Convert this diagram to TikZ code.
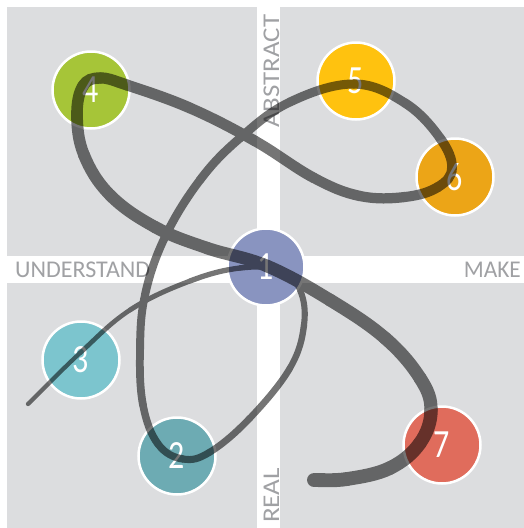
\documentclass[tikz,border=0pt]{standalone}
\usepackage{fontspec}
\setmainfont{Carlito}
\usepackage{graphicx}
\usetikzlibrary{calc}
\definecolor{quadgray}{HTML}{DCDDDF}
\definecolor{labgray}{HTML}{A0A1A4}
\definecolor{cA}{HTML}{8994C0}
\definecolor{cB}{HTML}{6DABB3}
\definecolor{cC}{HTML}{7CC5CE}
\definecolor{cD}{HTML}{A6C538}
\definecolor{cE}{HTML}{FFC20F}
\definecolor{cF}{HTML}{ECA517}
\definecolor{cG}{HTML}{E06C5C}
\newcommand{\digitlabel}[1]{\scalebox{0.8}[1]{\fontsize{40}{40}\selectfont #1}}
\newcommand{\axislabel}[2]{\resizebox{#1}{\height}{\fontsize{24}{24}\selectfont #2}}
\begin{document}
\begin{tikzpicture}[x=1pt,y=-1pt,
  quad/.style={fill=quadgray,draw=none},
  circ/.style={circle,minimum size=77pt,inner sep=0pt,draw=white,line width=2.5pt,text=white},
  axis/.style={inner sep=0pt,text=labgray},
  stroke/.style={black,line cap=round,line width=#1}]
\useasboundingbox (0,0) rectangle (524,528);
\fill[white] (0,0) rectangle (524,528);
% quadrants
\fill[quad] (7,7) rectangle (257,256);
\fill[quad] (280,7) rectangle (524,256);
\fill[quad] (7,283) rectangle (257,528);
\fill[quad] (280,283) rectangle (524,528);
% axis labels
\node[axis,anchor=base west] (lu) at (15,277) {\axislabel{135pt}{UNDERSTAND}};
\node[axis,anchor=base east] (lm) at (521,277) {\axislabel{57pt}{MAKE}};
\node[axis,anchor=base west,rotate=90] (la) at (279,128) {\axislabel{113pt}{ABSTRACT}};
\node[axis,anchor=base west,rotate=90] (lr) at (279,523) {\axislabel{55pt}{REAL}};
% circles
\node[circ,fill=cA] (n1) at (266,267) {\digitlabel{1}};
\node[circ,fill=cB] (n2) at (177,456) {\digitlabel{2}};
\node[circ,fill=cC] (n3) at (81,360) {\digitlabel{3}};
\node[circ,fill=cD] (n4) at (91,90) {\digitlabel{4}};
\node[circ,fill=cE] (n5) at (356,81) {\digitlabel{5}};
\node[circ,fill=cF] (n6) at (455,177) {\digitlabel{6}};
\node[circ,fill=cG] (n7) at (442,445) {\digitlabel{7}};
% curve points p1..p47 (p0 and p48 repeat the ends)
\foreach \x/\y [count=\i from 1] in {
 28/404, 80/353, 130/310, 190/281, 240/268, 280/270, 300/290, 304/325, 290/368, 250/418,
 210/452, 183/459, 158/444, 143/405, 140/350, 145/295, 165/237, 200/180, 240/138, 290/102,
 354/84, 405/103, 440/138, 452/168, 438/187, 405/197, 360/196, 314/178, 255/141, 190/108,
 127/85, 100/78, 83/86, 77/115, 84/155, 110/195, 155/227, 207/248, 267/266, 330/300,
 385/338, 420/378, 431/410, 420/443, 390/468, 347/479, 314/480}
 \coordinate (p\i) at (\x,\y);
\coordinate (p0) at (p1);
\coordinate (p48) at (p47);
% curve, one Catmull-Rom piece per segment with tapering width
\begin{scope}[transparency group,opacity=0.54]
\foreach \i in {1,...,46}{
  \pgfmathtruncatemacro\m{\i-1}
  \pgfmathtruncatemacro\n{\i+1}
  \pgfmathtruncatemacro\nn{\i+2}
  \pgfmathsetmacro\w{4+10*((\i-0.5)/46)^0.8}
  \draw[stroke=\w pt] (p\i) .. controls ($(p\i)+0.18*(p\n)-0.18*(p\m)$)
     and ($(p\n)-0.18*(p\nn)+0.18*(p\i)$) .. (p\n);
}
\end{scope}
\end{tikzpicture}
\end{document}
